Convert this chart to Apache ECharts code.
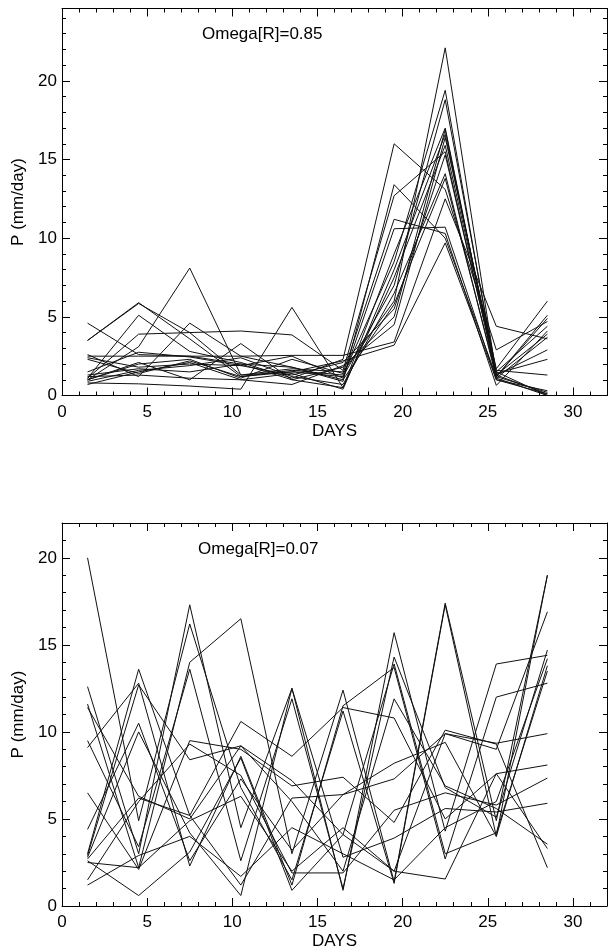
<!DOCTYPE html>
<html>
<head>
<meta charset="utf-8">
<script src="https://cdn.jsdelivr.net/npm/echarts@6/dist/echarts.min.js"></script>
<style>
html,body{margin:0;padding:0;background:#fff;}
#chart{width:610px;height:951px;}
</style>
</head>
<body>
<div id="chart"></div>
<script>
// ---- data ----
var days = [1.5, 4.5, 7.5, 10.5, 13.5, 16.5, 19.5, 22.5, 25.5, 28.5];
var xTickLabels = [0, 5, 10, 15, 20, 25, 30];
var yTickLabels = [0, 5, 10, 15, 20];
var titleTop = "Omega[R]=0.85";
var titleBottom = "Omega[R]=0.07";
var xName = "DAYS";
var yName = "P (mm/day)";

// top panel members (Omega[R]=0.85)
var top1  = [1.0, 3.1, 8.1, 1.3, 1.7, 1.5, 6.0, 22.1, 1.3, 0.1];
var top2  = [3.5, 5.9, 3.6, 1.2, 1.6, 1.3, 8.5, 19.4, 1.2, 4.9];
var top3  = [3.5, 5.85, 4.0, 1.3, 1.5, 1.2, 7.0, 18.8, 1.5, 4.4];
var top4  = [1.1, 5.1, 2.8, 2.1, 1.1, 2.3, 16.0, 13.1, 2.9, 4.7];
var top5  = [4.6, 2.6, 2.5, 2.0, 1.0, 1.8, 5.0, 16.9, 1.1, 0.0];
var top6  = [1.1, 3.9, 4.0, 4.1, 3.85, 1.6, 12.7, 15.5, 1.3, 3.9];
var top7  = [2.5, 2.5, 2.5, 2.5, 2.55, 2.55, 3.4, 12.5, 4.4, 3.6];
var top8  = [2.6, 1.2, 4.6, 2.5, 1.8, 0.9, 13.4, 10.0, 1.2, 0.2];
var top9  = [2.4, 1.8, 2.0, 1.9, 2.5, 1.1, 10.6, 10.7, 1.0, 0.3];
var top10 = [1.0, 2.1, 1.0, 3.3, 1.0, 0.5, 7.5, 15.9, 1.6, 1.3];
var top11 = [1.5, 2.75, 2.45, 1.9, 1.3, 2.1, 5.5, 15.3, 1.4, 2.3];
var top12 = [0.9, 1.6, 1.9, 2.4, 1.2, 0.7, 6.5, 14.1, 1.1, 3.7];
var top13 = [0.8, 0.74, 0.6, 0.4, 5.6, 0.5, 9.0, 17.0, 1.2, 5.1];
var top14 = [1.2, 1.3, 1.1, 1.0, 0.7, 1.9, 4.5, 16.4, 1.7, 6.0];
var top15 = [2.3, 1.4, 2.2, 1.2, 1.5, 2.2, 3.2, 9.7, 1.0, 0.1];
var top16 = [1.0, 2.0, 2.3, 1.1, 2.3, 1.4, 11.2, 10.3, 0.64, 4.1];
var top17 = [1.3, 1.7, 1.5, 2.0, 1.8, 1.0, 5.8, 13.8, 1.3, 2.9];
var top18 = [0.7, 1.5, 2.1, 1.0, 1.4, 0.4, 8.0, 16.6, 1.5, 0.0];

// bottom panel members (Omega[R]=0.07)
var bot1  = [20.0, 4.9, 16.2, 6.8, 1.5, 11.2, 1.3, 17.3, 4.0, 19.0];
var bot2  = [12.6, 3.0, 17.3, 4.5, 12.5, 0.9, 15.7, 4.3, 13.9, 14.4];
var bot3  = [11.6, 2.2, 14.0, 16.5, 3.0, 12.4, 1.4, 17.4, 4.9, 19.0];
var bot4  = [11.4, 6.3, 5.0, 9.2, 7.2, 4.1, 2.0, 1.55, 7.6, 3.3];
var bot5  = [9.5, 3.4, 13.6, 2.6, 11.9, 1.0, 14.3, 6.8, 5.1, 14.7];
var bot6  = [9.1, 12.8, 2.3, 8.6, 1.2, 11.5, 13.7, 2.7, 12.0, 12.8];
var bot7  = [6.5, 2.1, 9.5, 9.0, 6.9, 7.4, 4.8, 10.1, 9.3, 2.2];
var bot8  = [4.4, 10.5, 2.6, 7.3, 3.2, 6.4, 8.2, 9.4, 4.0, 13.8];
var bot9  = [3.0, 13.6, 5.2, 1.2, 6.2, 6.4, 7.3, 9.9, 9.35, 9.9];
var bot10 = [2.9, 12.7, 8.4, 9.2, 6.0, 2.0, 11.9, 6.9, 5.6, 3.55];
var bot11 = [2.8, 10.0, 4.2, 0.6, 12.5, 2.8, 3.9, 5.6, 5.4, 5.9];
var bot12 = [2.7, 6.2, 5.2, 10.6, 8.6, 11.4, 10.8, 5.0, 7.6, 8.1];
var bot13 = [2.5, 2.2, 4.9, 6.3, 2.0, 4.5, 2.0, 9.9, 9.0, 16.9];
var bot14 = [1.5, 6.0, 9.3, 7.5, 1.9, 1.9, 5.5, 6.5, 5.8, 7.35];
var bot15 = [1.2, 2.9, 4.0, 1.7, 4.5, 3.0, 1.5, 4.5, 6.0, 14.2];
var bot16 = [2.6, 0.6, 3.1, 8.5, 0.9, 4.1, 13.9, 3.0, 4.2, 13.5];

var topMembers = [top1, top2, top3, top4, top5, top6, top7, top8, top9, top10, top11, top12, top13, top14, top15, top16, top17, top18];
var botMembers = [bot1, bot2, bot3, bot4, bot5, bot6, bot7, bot8, bot9, bot10, bot11, bot12, bot13, bot14, bot15, bot16];

// ---- chart ----
var FONT = '"Liberation Sans", Arial, Helvetica, sans-serif';
var INK = '#000';
var grids = [
  {left: 62, top: 8.5, width: 547, height: 387, ymax: 24.6},
  {left: 62, top: 523, width: 547, height: 386, ymax: 22}
];

var xAxes = [], yAxes = [], series = [];
function tickFmt(list) {
  return function (v) { return list.indexOf(Math.round(v * 1000) / 1000) >= 0 ? String(v) : ''; };
}
grids.forEach(function (g, gi) {
  ['bottom', 'top'].forEach(function (pos) {
    [5, 1].forEach(function (iv) {
      xAxes.push({
        gridIndex: gi, type: 'value', position: pos, min: 0, max: 32, interval: iv,
        axisLine: {show: iv === 5, onZero: false, lineStyle: {color: INK, width: 1}},
        axisTick: {show: true, inside: true, length: iv === 5 ? 8 : 4, lineStyle: {color: INK, width: 1}},
        axisLabel: {show: pos === 'bottom' && iv === 5, color: '#000', fontFamily: FONT, fontSize: 17, margin: 8, formatter: tickFmt(xTickLabels)},
        splitLine: {show: false},
        name: (pos === 'bottom' && iv === 5) ? xName : '',
        nameLocation: 'middle', nameGap: 27,
        nameTextStyle: {color: '#000', fontFamily: FONT, fontSize: 17}
      });
    });
  });
  ['left', 'right'].forEach(function (pos) {
    [5, 1].forEach(function (iv) {
      yAxes.push({
        gridIndex: gi, type: 'value', position: pos, min: 0, max: g.ymax, interval: iv,
        axisLine: {show: iv === 5, onZero: false, lineStyle: {color: INK, width: 1}},
        axisTick: {show: true, inside: true, length: iv === 5 ? 8 : 4, lineStyle: {color: INK, width: 1}},
        axisLabel: {show: pos === 'left' && iv === 5, color: '#000', fontFamily: FONT, fontSize: 17, margin: 5, formatter: tickFmt(yTickLabels)},
        splitLine: {show: false},
        name: (pos === 'left' && iv === 5) ? yName : '',
        nameLocation: 'middle', nameGap: 34, nameRotate: 90,
        nameTextStyle: {color: '#000', fontFamily: FONT, fontSize: 17}
      });
    });
  });
});

function addSeries(members, gi) {
  members.forEach(function (m) {
    series.push({
      type: 'line', xAxisIndex: gi * 4, yAxisIndex: gi * 4,
      data: days.map(function (d, i) { return [d, m[i]]; }),
      showSymbol: false, symbol: 'none', silent: true, clip: false,
      lineStyle: {color: '#111', width: 1}
    });
  });
}
addSeries(topMembers, 0);
addSeries(botMembers, 1);

var chart = echarts.init(document.getElementById('chart'), null, {renderer: 'canvas'});
chart.setOption({
  animation: false,
  backgroundColor: '#fff',
  grid: grids.map(function (g) { return {left: g.left, top: g.top, width: g.width, height: g.height, containLabel: false}; }),
  xAxis: xAxes,
  yAxis: yAxes,
  series: series,
  graphic: [
    {type: 'text', left: 202, top: 26, style: {text: titleTop, fill: '#000', font: '17px ' + FONT}},
    {type: 'text', left: 198, top: 541, style: {text: titleBottom, fill: '#000', font: '17px ' + FONT}}
  ]
});
</script>
</body>
</html>
